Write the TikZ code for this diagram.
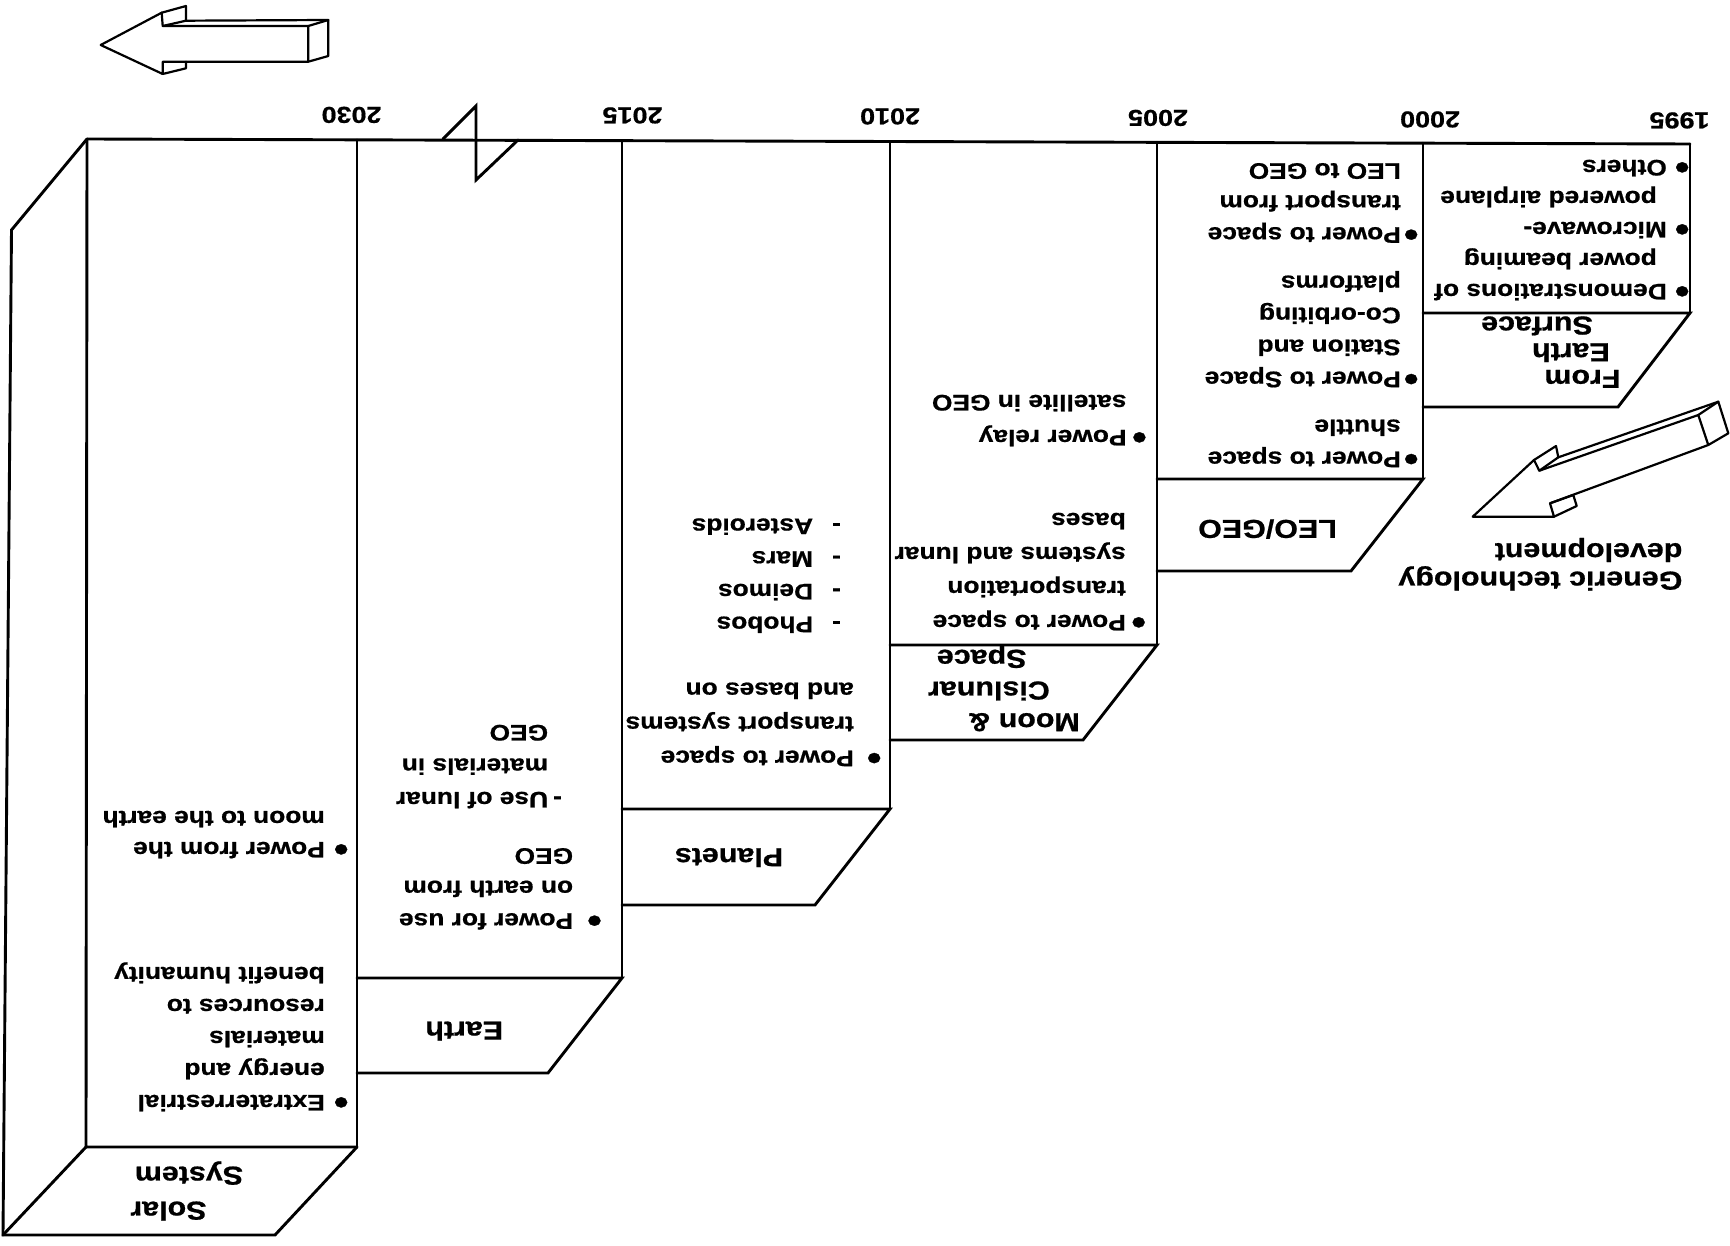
\documentclass[tikz,border=0pt]{standalone}
\usepackage{fontspec}
\setmainfont[FakeStretch=1.17, BoldFeatures={FakeBold=0.7}]{Liberation Sans}
\newcommand\bul[1]{\llap{\raisebox{-4.5pt}{\fontsize{36}{36}\selectfont\textbullet}\hspace{#1pt}}}
\newcommand\dsh[1]{\llap{-\hspace{#1pt}}}
\begin{document}
\begin{tikzpicture}[x=1pt,y=-1pt,
  ln/.style={line width=2.9pt, line join=miter, line cap=round},
  ar/.style={line width=2.2pt, line join=round, line cap=round},
  txt/.style={rotate=180, anchor=base west, inner sep=0pt, align=left},
  body/.style={txt, font=\fontsize{22.5}{#1}\selectfont\bfseries},
  body/.default=32,
  lab/.style={txt, font=\fontsize{26}{#1}\selectfont\bfseries},
  lab/.default=30,
  yr/.style={rotate=180, anchor=base, inner sep=0pt, font=\fontsize{23}{23}\selectfont\bfseries}]
\useasboundingbox (0,0) rectangle (1730,1246);

% ---------- top line and break ----------
\draw[ln] (87,139) -- (1690,144);
\draw[ln] (443,139) -- (476,106) -- (476,180) -- (518,140);

% ---------- Solar System column (with 3D side) ----------
\draw[ln] (87,139) -- (11.5,230) -- (3,1235) -- (275,1235) -- (357,1147);
\draw[ln] (3,1235) -- (86,1147);
\draw[ln] (87,139) -- (86,1147) -- (357,1147);
\draw[ln] (357,140) -- (357,1147);

% ---------- Earth column ----------
\draw[ln] (622,140.7) -- (622,978);
\draw[ln] (357,978) -- (622,978) -- (548,1073) -- (357,1073);

% ---------- Planets column ----------
\draw[ln] (890,141.5) -- (890,809);
\draw[ln] (622,809) -- (890,809) -- (815,905) -- (622,905);

% ---------- Moon column ----------
\draw[ln] (1157,142.3) -- (1157,645);
\draw[ln] (890,645) -- (1157,645) -- (1083,740) -- (890,740);

% ---------- LEO/GEO column ----------
\draw[ln] (1423,143.2) -- (1423,479);
\draw[ln] (1157,479) -- (1423,479) -- (1351,571) -- (1157,571);

% ---------- From Earth column ----------
\draw[ln] (1690,144) -- (1690,313);
\draw[ln] (1423,313) -- (1690,313) -- (1618,407) -- (1423,407);

% ---------- top-left block arrow ----------
\draw[ar] (100.7,45) -- (161.7,12.7) -- (162.7,26) -- (308.3,26) -- (308.3,61.7)
  -- (162.7,61.7) -- (162.7,74) -- cycle;
\draw[ar] (161.7,12.7) -- (186,6) -- (186,20.7) -- (162.7,26);
\draw[ar] (186,20.7) -- (328.3,20);
\draw[ar] (308.3,26) -- (328.3,20) -- (328.3,56) -- (308.3,61.7);
\draw[ar] (186,61.7) -- (186,68.3) -- (162.7,74);

% ---------- lower-right block arrow ----------
\draw[ar] (1472.7,516.7) -- (1534,460) -- (1539.3,470.7) -- (1698.3,415)
  -- (1708.3,445) -- (1550,503.3) -- (1554,516.7) -- cycle;
\draw[ar] (1534,460) -- (1556,446) -- (1558.3,457.3) -- (1539.3,470.7);
\draw[ar] (1558.3,457.3) -- (1718.3,401.7);
\draw[ar] (1698.3,415) -- (1718.3,401.7) -- (1728.3,433.3) -- (1708.3,445);
\draw[ar] (1550,503.3) -- (1573.3,495) -- (1576.7,506) -- (1554,516.7);

% ---------- years ----------
\node[yr] (y2030) at (351.5,107) {2030};
\node[yr] (y2015) at (632.5,107.5) {2015};
\node[yr] (y2010) at (890,108.5) {2010};
\node[yr] (y2005) at (1158,110) {2005};
\node[yr] (y2000) at (1430,111.5) {2000};
\node[yr] (y1995) at (1679.5,112.5) {1995};

% ---------- From Earth ----------
\node[body=31] (fe) at (1667,160)
  {\bul{8}Demonstrations of\\\hspace*{10pt}power beaming\\\bul{8}Microwave-\\\hspace*{10pt}powered airplane\\\bul{8}Others};
\node[lab=26.7] (felab) at (1620.7,316.6)
  {From\\\hspace*{10.7pt}Earth\\\hspace*{27.7pt}Surface};

% ---------- LEO/GEO ----------
\node[lab] (leolab) at (1337,520) {LEO/GEO};
\node[body] (leoa) at (1401,419.7) {\bul{3}Power to space\\shuttle};
\node[body] (leob) at (1401,275.7) {\bul{3}Power to Space\\Station and\\Co-orbiting\\platforms};
\node[body] (leoc) at (1401,163.3) {\bul{3}Power to space\\transport from\\LEO to GEO};

% ---------- Moon & Cislunar Space ----------
\node[lab=31.7] (moonlab) at (1080,649.9)
  {Moon \&\\\hspace*{30pt}Cislunar\\\hspace*{53.3pt}Space};
\node[body=34] (moona) at (1126,513) {\bul{5.5}Power to space\\transportation\\systems and lunar\\bases};
\node[body=35] (moonb) at (1126.7,395) {\bul{5.5}Power relay\\satellite in GEO};

% ---------- Planets ----------
\node[lab] (plalab) at (783.3,848.3) {Planets};
\node[body=34] (plaa) at (854,682.7) {\bul{13}Power to space\\transport systems\\and bases on};
\node[body=32.7] (plab) at (813.3,518.6) {\dsh{19}Phobos\\\dsh{19}Deimos\\\dsh{19}Mars\\\dsh{19}Asteroids};

% ---------- Earth ----------
\node[lab] (earlab) at (503.3,1021.7) {Earth};
\node[body=32.5] (eara) at (573.3,848.3) {\bul{14}Power for use\\on earth from\\GEO};
\node[body=33.5] (earb) at (548.3,725) {\dsh{5}Use of lunar\\materials in\\GEO};

% ---------- Solar System ----------
\node[lab=35] (sollab) at (243.3,1166.7) {\hspace*{36.6pt}Solar\\System};
\node[body] (sola) at (325,967) {\bul{9}Extraterrestrial\\energy and\\materials\\resources to\\benefit humanity};
\node[body=31] (solb) at (325,811) {\bul{9}Power from the\\moon to the earth};

% ---------- Generic technology development ----------
\node[lab=28.4] (gen) at (1682.6,543.3) {Generic technology\\development};
\end{tikzpicture}
\end{document}
